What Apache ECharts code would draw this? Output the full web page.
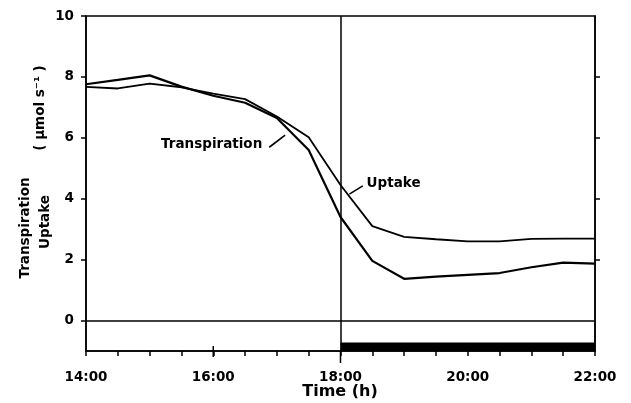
<!DOCTYPE html>
<html>
<head>
<meta charset="utf-8">
<script src="https://cdn.jsdelivr.net/npm/echarts@6/dist/echarts.min.js"></script>
<style>
html,body{margin:0;padding:0;background:#fff;}
#chart{width:631px;height:403px;}
</style>
</head>
<body>
<div id="chart"></div>
<script>
// ---- data ----
var hours = [14, 14.5, 15, 15.5, 16, 16.5, 17, 17.5, 18, 18.5, 19, 19.5, 20, 20.5, 21, 21.5, 22];
var transpiration = [7.76, 7.90, 8.05, 7.68, 7.38, 7.15, 6.65, 5.60, 3.40, 1.96, 1.37, 1.44, 1.50, 1.56, 1.75, 1.90, 1.87];
var uptake =        [7.67, 7.62, 7.78, 7.66, 7.45, 7.27, 6.70, 6.02, 4.45, 3.10, 2.75, 2.67, 2.60, 2.60, 2.68, 2.69, 2.69];
var xTickValues = [14, 14.5, 15, 15.5, 16, 16.5, 17, 17.5, 18, 18.5, 19, 19.5, 20, 20.5, 21, 21.5, 22];
var xLabelValues = [14, 16, 18, 20, 22];
var yLabelValues = [0, 2, 4, 6, 8, 10];
var yRightTicks = [2, 4, 6, 8];
var darkPeriod = [18, 22];     // dark period bar (h)
var darkBar = [-1, -0.72];     // bar extent on y
var lightsOff = 18;            // vertical line
// annotation anchors (data coords)
var transLabel = {text: 'Transpiration', at: [16.77, 5.79], from: [16.88, 5.69], to: [17.13, 6.09]};
var uptakeLabel = {text: 'Uptake', at: [18.41, 4.51], from: [18.14, 4.15], to: [18.35, 4.42]};

function pairs(xs, ys){ return xs.map(function(x,i){ return [x, ys[i]]; }); }
function hhmm(v){ return (v < 10 ? '0' : '') + v + ':00'; }

var FONT = 'DejaVu Sans';
var chart = echarts.init(document.getElementById('chart'), null, {renderer:'canvas'});

var option = {
  backgroundColor: '#fff',
  animation: false,
  grid: {left: 86, right: 36, top: 16, bottom: 52, show: true, borderColor: '#000', borderWidth: 1.5, backgroundColor: 'transparent'},
  xAxis: {
    type: 'value', min: 14, max: 22,
    axisLine: {show: true, onZero: false, lineStyle: {color: '#000', width: 1.5}},
    axisTick: {show: true, customValues: xTickValues, length: 5, lineStyle: {color: '#000', width: 1.5}},
    axisLabel: {customValues: xLabelValues, formatter: hhmm, color: '#000', fontFamily: FONT, fontWeight: 'bold', fontSize: 13.5, margin: 19},
    splitLine: {show: false}
  },
  yAxis: [{
    type: 'value', min: -1, max: 10, position: 'left',
    axisLine: {show: true, onZero: false, lineStyle: {color: '#000', width: 1.5}},
    axisTick: {show: true, customValues: yLabelValues, length: 5, lineStyle: {color: '#000', width: 1.5}},
    axisLabel: {customValues: yLabelValues, color: '#000', fontFamily: FONT, fontWeight: 'bold', fontSize: 13.5, margin: 12},
    splitLine: {show: false}
  }, {
    type: 'value', min: -1, max: 10, position: 'right',
    axisLine: {show: true, onZero: false, lineStyle: {color: '#000', width: 1.5}},
    axisTick: {show: true, customValues: yRightTicks, length: 5, lineStyle: {color: '#000', width: 1.5}},
    axisLabel: {show: false},
    splitLine: {show: false}
  }],
  series: [{
    name: 'Transpiration', type: 'line', data: pairs(hours, transpiration),
    symbol: 'none', lineStyle: {color: '#000', width: 2.2}, z: 3,
    markLine: {
      silent: true, symbol: 'none', label: {show: false},
      lineStyle: {color: '#000', width: 1.5, type: 'solid'},
      data: [{yAxis: 0}, {xAxis: lightsOff}]
    },
    markArea: {
      silent: true, itemStyle: {color: '#000'}, label: {show: false},
      data: [[{xAxis: darkPeriod[0], yAxis: darkBar[0]}, {xAxis: darkPeriod[1], yAxis: darkBar[1]}]]
    }
  }, {
    name: 'Uptake', type: 'line', data: pairs(hours, uptake),
    symbol: 'none', lineStyle: {color: '#000', width: 1.8}, z: 3
  }]
};
chart.setOption(option);

function px(p){ return chart.convertToPixel({gridIndex: 0}, p); }
var g = [];
function addLabel(a, align){
  var t = px(a.at), f = px(a.from), e = px(a.to);
  g.push({type: 'text', x: t[0], y: t[1], style: {text: a.text, fill: '#000', font: 'bold 13.5px "' + FONT + '"', align: align, verticalAlign: 'middle'}});
  g.push({type: 'line', shape: {x1: f[0], y1: f[1], x2: e[0], y2: e[1]}, style: {stroke: '#000', lineWidth: 1.6}});
}
addLabel(transLabel, 'right');
addLabel(uptakeLabel, 'left');
// extension of the 18:00 line below the axis, and the longer 16:00 tick
var b18 = px([lightsOff, -1]);
g.push({type: 'line', shape: {x1: b18[0], y1: b18[1], x2: b18[0], y2: b18[1] + 12}, style: {stroke: '#000', lineWidth: 1.5}});
var b16 = px([16, -1]);
g.push({type: 'line', shape: {x1: b16[0], y1: b16[1] - 5, x2: b16[0], y2: b16[1] + 6}, style: {stroke: '#000', lineWidth: 1.5}});
// axis titles
g.push({type: 'text', x: 340, y: 392, style: {text: 'Time (h)', fill: '#000', font: 'bold 16px "' + FONT + '"', align: 'center', verticalAlign: 'middle'}});
g.push({type: 'text', x: 25, y: 228, rotation: Math.PI / 2, style: {text: 'Transpiration', fill: '#000', font: 'bold 13.5px "' + FONT + '"', align: 'center', verticalAlign: 'middle'}});
g.push({type: 'text', x: 45, y: 222, rotation: Math.PI / 2, style: {text: 'Uptake', fill: '#000', font: 'bold 13.5px "' + FONT + '"', align: 'center', verticalAlign: 'middle'}});
g.push({type: 'text', x: 40, y: 108, rotation: Math.PI / 2, style: {text: '( \u00b5mol s\u207b\u00b9 )', fill: '#000', font: 'bold 13.5px "' + FONT + '"', align: 'center', verticalAlign: 'middle'}});
chart.setOption({graphic: g});
</script>
</body>
</html>
